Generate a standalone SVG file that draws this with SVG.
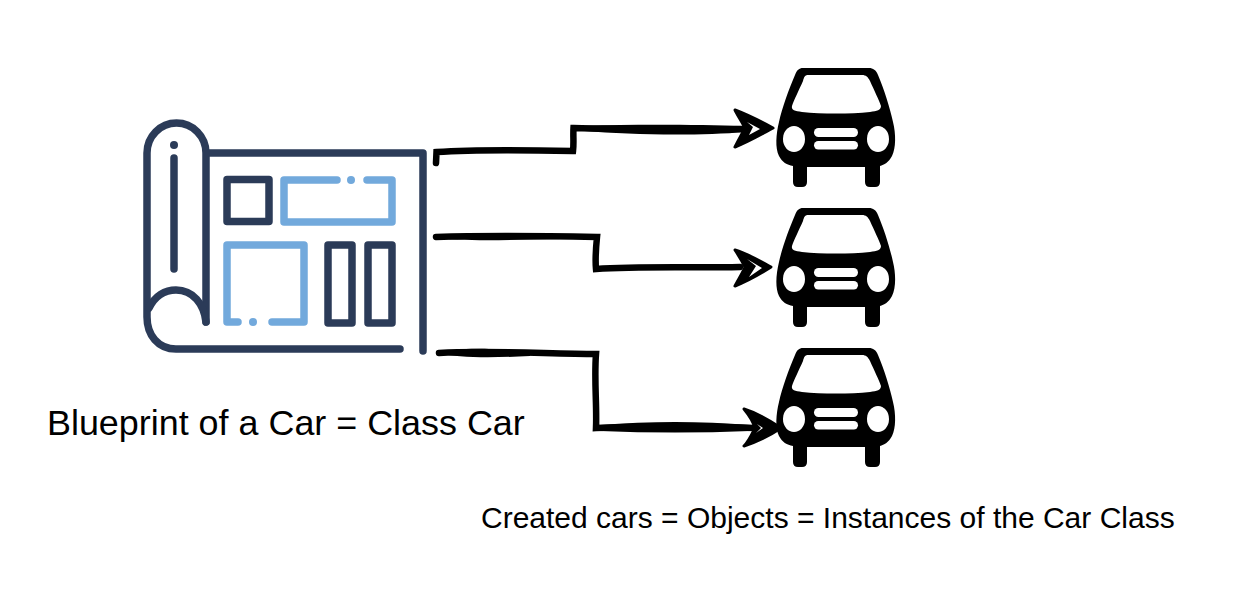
<svg xmlns="http://www.w3.org/2000/svg" width="1234" height="596" viewBox="0 0 1234 596">
<style>
.dk{fill:none;stroke:#2b3b58;stroke-width:7.500;stroke-linecap:round;stroke-linejoin:round}
.bl{fill:none;stroke:#72a9dc;stroke-width:7.500;stroke-linecap:round;stroke-linejoin:round}
.cn{fill:none;stroke:#000;stroke-width:6.500;stroke-linecap:round;stroke-linejoin:miter}
.th{fill:#000}
.hd{fill:#000;stroke:#000;stroke-width:3;stroke-linejoin:round}
.hole{fill:#fff}
text{font-family:"Liberation Sans",Arial,sans-serif;fill:#000}
</style>
<defs>
<g id="car">
<path fill="#000" d="M803 68H869C873 68 876 70 878 75C884 89 890 108 893 122C896 134 896 148 892 156C889 162 884 165 880 166V182Q880 187 875 187H870Q865 187 865 182V167H807V182Q807 187 802 187H798Q793 187 793 182V166C787 165 782 162 779 156C775 148 776 134 779 122C782 108 789 89 795 75C797 70 799 68 803 68Z"/>
<path fill="#fff" d="M808 75H862C866 75 868 77 870 81C874 90 879 100 881 106C881 110 877 111 870 112C850 114 822 114 802 112C795 111 791 110 792 106C794 100 799 90 803 81C804 77 805 75 808 75Z"/>
<ellipse cx="794" cy="139" rx="11" ry="13" fill="#fff"/>
<ellipse cx="878" cy="139" rx="11" ry="13" fill="#fff"/>
<rect x="814" y="128" width="44" height="9" rx="4.500" fill="#fff"/>
<rect x="814" y="141" width="44" height="8.500" rx="4.200" fill="#fff"/>
</g>
</defs>
<g id="blueprint">
<path class="dk" d="M206 153H423V351M400 349H176C158 349 147 335 147 317V153A29.500 30 0 0 1 206 153V322"/>
<path class="dk" d="M149 308C155 296 165 290 176 290C193 290 204 304 206 322"/>
<path class="dk" d="M174 158V269"/>
<circle cx="174" cy="145" r="4" fill="#2b3b58"/>
<rect class="dk" x="227" y="179.500" width="42" height="42"/>
<path class="bl" d="M337 180H284V222H392V180H367"/>
<circle cx="351" cy="180" r="4" fill="#72a9dc"/>
<path class="bl" d="M238 322H227V245H304V322H272"/>
<circle cx="253" cy="322" r="4" fill="#72a9dc"/>
<rect class="dk" x="328" y="245" width="24" height="78"/>
<rect class="dk" x="368" y="245" width="24" height="78"/>
</g>
<g id="connectors">
<path class="cn" d="M436 163L436.500 152C480 149 530 150 573 151C574 143 573 136 573.500 128C620 129 680 131 745 129"/>
<path class="th" d="M585 126C640 124 700 125 745 126V132C700 136 630 135 585 131Z"/>
<path class="hd" d="M773 128C760 121 748 115 735 110C738 116 742 122 745 128C742 134 738 141 735 147C748 142 760 135 773 128Z"/>
<path class="hole" d="M747 122L753 127L749 135L760 129Z"/>
<path class="cn" d="M436 237C490 235 550 236 597 237C596 247 595 258 596 269C640 266 690 268 740 267"/>
<path class="th" d="M433 237C460 232 510 232 560 235V239C510 240 460 242 433 237Z"/>
<path class="hd" d="M771 267C760 261 748 254 735 250C739 256 742 261 745 267C742 274 738 280 735 286C748 281 760 274 771 267Z"/>
<path class="hole" d="M747 259L756 266L749 277L762 268Z"/>
<path class="cn" d="M439 353C490 350 550 354 596 354C594 380 597 405 596 428C650 426 700 426 755 428"/>
<path class="th" d="M437 353C460 347 490 348 530 352V356C490 358 460 358 437 353Z"/>
<path class="th" d="M600 425C650 421 700 421 750 425V431C700 433 650 433 600 431Z"/>
<path class="hd" d="M781 428C772 422 760 414 744 409C749 415 753 421 755 428C752 434 749 441 744 446C760 441 772 434 781 428Z"/>
<path class="hole" d="M757 424L761 428L756 433L763 428Z"/>
</g>
<g id="cars">
<use id="car1" href="#car"/>
<use id="car2" href="#car" y="140"/>
<use id="car3" href="#car" y="280"/>
</g>
<text id="class-label" x="47" y="435" font-size="35.900">Blueprint of a Car = Class Car</text>
<text id="objects-label" x="481" y="528" font-size="30">Created cars = Objects = Instances of the Car Class</text>
</svg>
